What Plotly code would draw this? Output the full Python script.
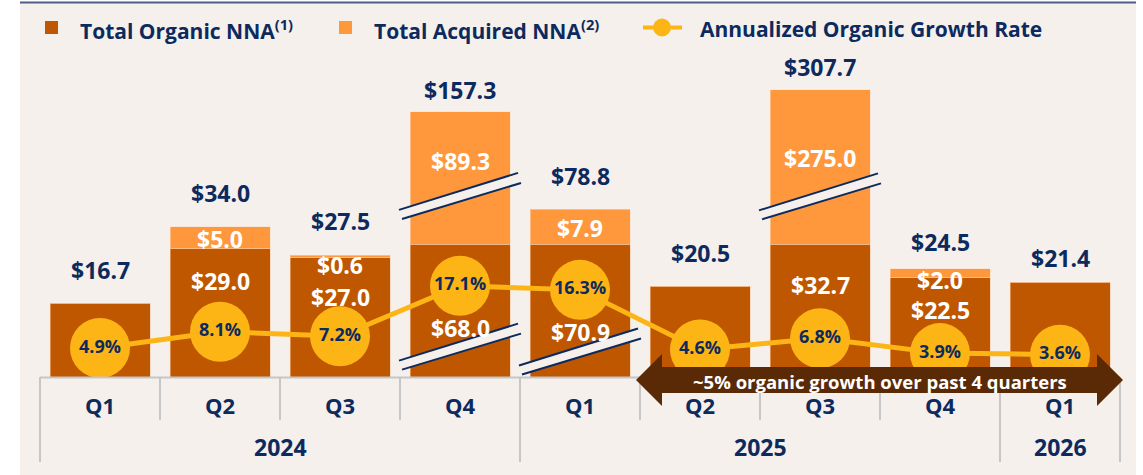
import plotly.graph_objects as go

# ---------------- data ----------------
quarters = ["Q1", "Q2", "Q3", "Q4", "Q1", "Q2", "Q3", "Q4", "Q1"]
years = ["2024", "2024", "2024", "2024", "2025", "2025", "2025", "2025", "2026"]
organic_nna = [16.7, 29.0, 27.0, 68.0, 70.9, 20.5, 32.7, 22.5, 21.4]
acquired_nna = [0.0, 5.0, 0.6, 89.3, 7.9, 0.0, 275.0, 2.0, 0.0]
total_nna = [16.7, 34.0, 27.5, 157.3, 78.8, 20.5, 307.7, 24.5, 21.4]
growth_rate = [4.9, 8.1, 7.2, 17.1, 16.3, 4.6, 6.8, 3.9, 3.6]
# heights as drawn on the broken (truncated) value axis
organic_shown = [16.7, 29.0, 27.0, 30.0, 30.0, 20.5, 30.0, 22.5, 21.4]
acquired_shown = [0.0, 5.0, 0.6, 30.0, 7.9, 0.0, 35.0, 2.0, 0.0]
# axis-break markers: (category index, value level)
breaks = [(3, 40.9), (3, 6.8), (4, 5.7), (6, 40.8)]

# ---------------- style ----------------
total_label_gap = [33, 34, 34, 22, 33, 33, 23, 27, 24]
organic_label_dy = [None, 32, 39, 84, 88, None, 41, 32, None]
acquired_label_dy = [None, 12, 10, 49, 19, None, 68, 11, None]

C_ORG = "#BF5700"
C_ACQ = "#FF983D"
C_YEL = "#FDB515"
C_NAVY = "#0D2A5E"
C_ARROW = "#5A2A06"
C_BG = "#F5F0EC"
C_SEP = "#C6C6C6"
FONT = "Open Sans"

W, H = 1143, 475
BASE_PX, PX_PER_UNIT = 377, 4.42
FIRST_CAT_PX, CAT_PX = 100, 120
G0_PX, PX_PER_PCT = 373, 5.1

x_range = [(0 - FIRST_CAT_PX) / CAT_PX, (W - FIRST_CAT_PX) / CAT_PX]
y_range = [-(H - BASE_PX) / PX_PER_UNIT, BASE_PX / PX_PER_UNIT]
y2_range = [-(H - G0_PX) / PX_PER_PCT, G0_PX / PX_PER_PCT]


def X(px):
    return (px - FIRST_CAT_PX) / CAT_PX


def Y(py):
    return (BASE_PX - py) / PX_PER_UNIT


xs = list(range(len(quarters)))
bar_w = 100 / CAT_PX

fig = go.Figure()
fig.add_trace(go.Bar(
    x=xs, y=organic_shown, name="Total Organic NNA", width=bar_w,
    marker=dict(color=C_ORG, line=dict(color="rgba(255,200,160,0.5)", width=1)),
    customdata=organic_nna, hovertemplate="%{customdata}<extra></extra>",
))
fig.add_trace(go.Bar(
    x=xs, y=acquired_shown, name="Total Acquired NNA", width=bar_w,
    marker=dict(color=C_ACQ, line=dict(color="rgba(255,220,190,0.5)", width=1)),
    customdata=acquired_nna, hovertemplate="%{customdata}<extra></extra>",
))
fig.add_trace(go.Scatter(
    x=xs, y=growth_rate, yaxis="y2", name="Annualized Organic Growth Rate",
    mode="lines+markers+text",
    line=dict(color=C_YEL, width=5),
    marker=dict(color=C_YEL, size=60, line=dict(width=0)),
    text=[f"{g:.1f}%" for g in growth_rate], textposition="middle center",
    textfont=dict(family=FONT, size=18, color=C_NAVY, weight=700),
    cliponaxis=False,
))

shapes = []
annotations = []

# background panel and top rule
shapes.append(dict(type="rect", layer="below", x0=X(20), x1=X(1136), y0=Y(3), y1=Y(475),
                   fillcolor=C_BG, line=dict(width=0)))
shapes.append(dict(type="line", layer="above", x0=X(20), x1=X(1136), y0=Y(2.5), y1=Y(2.5),
                   line=dict(color="#4B5E86", width=2)))

# category axis: baseline and separators
shapes.append(dict(type="line", layer="above", x0=-0.5, x1=len(xs) - 0.5, y0=Y(377.5), y1=Y(377.5),
                   line=dict(color=C_SEP, width=2)))
for k in range(len(xs) + 1):
    is_year_edge = k == 0 or k == len(xs) or years[k] != years[k - 1]
    shapes.append(dict(type="line", layer="above", x0=k - 0.5, x1=k - 0.5,
                       y0=Y(377), y1=Y(462 if is_year_edge else 420),
                       line=dict(color=C_SEP, width=2)))
for i, q in enumerate(quarters):
    annotations.append(dict(x=i, y=Y(405), text=q, showarrow=False, xanchor="center", yanchor="middle",
                            font=dict(family=FONT, size=22, color=C_NAVY, weight=700)))
for yr in dict.fromkeys(years):
    idx = [i for i, v in enumerate(years) if v == yr]
    annotations.append(dict(x=(idx[0] + idx[-1]) / 2, y=Y(447), text=yr, showarrow=False,
                            xanchor="center", yanchor="middle",
                            font=dict(family=FONT, size=23, color=C_NAVY, weight=700)))

# axis-break markers
for ci, lvl in breaks:
    def P(dx, dy):
        return f"{ci + dx / CAT_PX},{lvl - dy / PX_PER_UNIT}"
    a1, b1 = P(-61, 13.7), P(58, -23.3)
    a2, b2 = P(-58, 22.7), P(61, -13.3)
    shapes.append(dict(type="path", layer="above", path=f"M{a1} L{b1} L{b2} L{a2} Z",
                       fillcolor=C_BG, line=dict(width=0)))
    shapes.append(dict(type="path", layer="above", path=f"M{a1} L{b1}", line=dict(color=C_NAVY, width=2)))
    shapes.append(dict(type="path", layer="above", path=f"M{a2} L{b2}", line=dict(color=C_NAVY, width=2)))

# double-headed arrow
pts = [(636, 380), (662, 354), (662, 367), (1097, 367), (1097, 354), (1123, 380),
       (1097, 406), (1097, 393), (662, 393), (662, 406)]
path = "M" + " L".join(f"{X(px)},{Y(py)}" for px, py in pts) + " Z"
shapes.append(dict(type="path", layer="above", path=path, fillcolor=C_ARROW, line=dict(width=0)))
annotations.append(dict(x=X(879.5), y=Y(381), text="~5% organic growth over past 4 quarters",
                        showarrow=False, xanchor="center", yanchor="middle",
                        font=dict(family=FONT, size=18.5, color="white", weight=700)))

# bar labels
for i in xs:
    top = organic_shown[i] + acquired_shown[i]
    annotations.append(dict(x=i, y=top, yshift=total_label_gap[i], text=f"${total_nna[i]:.1f}",
                            showarrow=False, xanchor="center", yanchor="middle",
                            font=dict(family=FONT, size=23, color=C_NAVY, weight=700)))
    if organic_label_dy[i] is not None:
        annotations.append(dict(x=i, y=organic_shown[i], yshift=-organic_label_dy[i],
                                text=f"${organic_nna[i]:.1f}", showarrow=False,
                                xanchor="center", yanchor="middle",
                                font=dict(family=FONT, size=23, color="white", weight=700)))
    if acquired_label_dy[i] is not None:
        annotations.append(dict(x=i, y=top, yshift=-acquired_label_dy[i],
                                text=f"${acquired_nna[i]:.1f}", showarrow=False,
                                xanchor="center", yanchor="middle",
                                font=dict(family=FONT, size=23, color="white", weight=700)))

# legend (drawn)
shapes.append(dict(type="rect", layer="above", x0=X(45), x1=X(58), y0=Y(21), y1=Y(34),
                   fillcolor=C_ORG, line=dict(width=0)))
shapes.append(dict(type="rect", layer="above", x0=X(339), x1=X(352), y0=Y(21), y1=Y(34),
                   fillcolor=C_ACQ, line=dict(width=0)))
shapes.append(dict(type="line", layer="above", x0=X(643), x1=X(682), y0=Y(27.5), y1=Y(27.5),
                   line=dict(color=C_YEL, width=4)))
shapes.append(dict(type="circle", layer="above", x0=X(653), x1=X(671), y0=Y(18.5), y1=Y(36.5),
                   fillcolor=C_YEL, line=dict(width=0)))
for px, txt in [(78, "Total Organic NNA<sup>(1)</sup>"), (372, "Total Acquired NNA<sup>(2)</sup>"),
                (698, "Annualized Organic Growth Rate")]:
    annotations.append(dict(x=X(px), y=Y(29), text=txt, showarrow=False, xanchor="left", yanchor="middle",
                            font=dict(family=FONT, size=21, color=C_NAVY, weight=700)))

fig.update_layout(
    width=W, height=H, margin=dict(l=0, r=0, t=0, b=0, pad=0),
    paper_bgcolor="white", plot_bgcolor="rgba(0,0,0,0)",
    barmode="stack", showlegend=False,
    xaxis=dict(range=x_range, visible=False, fixedrange=True),
    yaxis=dict(range=y_range, visible=False, fixedrange=True),
    yaxis2=dict(range=y2_range, visible=False, overlaying="y", fixedrange=True),
    shapes=shapes, annotations=annotations,
)
fig.write_html("out.html", config={"displayModeBar": False},
               post_script="document.body.style.margin='0';document.body.style.overflow='hidden';")
